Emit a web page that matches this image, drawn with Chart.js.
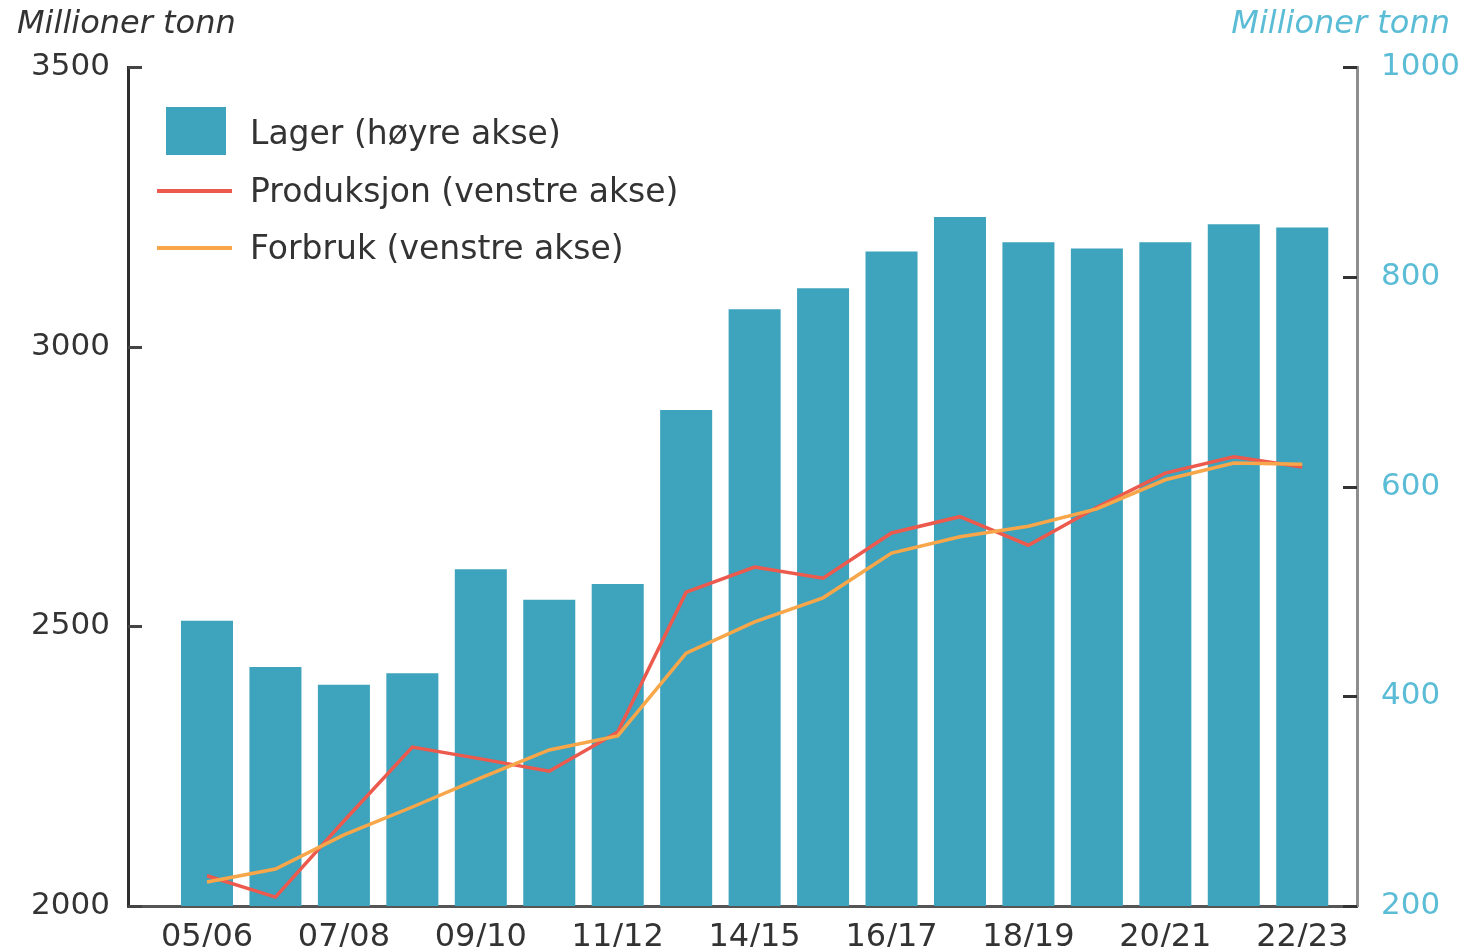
<!DOCTYPE html>
<html>
<head>
<meta charset="utf-8">
<script src="https://cdn.jsdelivr.net/npm/chart.js@4.4.0/dist/chart.umd.min.js"></script>
<style>
  body { margin: 0; background: #fff; }
  #wrap { position: relative; width: 1463px; height: 947px; }
  .unit { position: absolute; top: 3px; font: italic 32px 'DejaVu Sans', sans-serif; white-space: nowrap; }
  #unitLeft { left: 17px; color: #333; }
  #unitRight { right: 13px; color: #5bbcd6; }
  #legend { position: absolute; left: 157px; top: 104px; font: 33px 'DejaVu Sans', sans-serif; color: #333; }
  .item { position: relative; height: 57.5px; padding-left: 93px; line-height: 57.5px; white-space: nowrap; }
  .swatch { position: absolute; }
</style>
</head>
<body>
<div id="wrap">
  <canvas id="chart" width="1463" height="947"></canvas>
  <div class="unit" id="unitLeft">Millioner tonn</div>
  <div class="unit" id="unitRight">Millioner tonn</div>
  <div id="legend"></div>
</div>
<script>
// sesonger (13/14 mangler i originalen)
const seasons = ['05/06', '06/07', '07/08', '08/09', '09/10', '10/11', '11/12', '12/13',
  '14/15', '15/16', '16/17', '17/18', '18/19', '19/20', '20/21', '21/22', '22/23'];

// millioner tonn, høyre akse
const lager = [472, 428, 411, 422, 521, 492, 507, 673, 769, 789, 824, 857, 833, 827, 833, 850, 847];

// millioner tonn, venstre akse
const produksjon = [2054, 2016, 2152, 2284, 2263, 2241, 2311, 2561, 2606, 2586, 2667, 2696, 2645, 2713, 2774, 2803, 2785];
const forbruk = [2043, 2066, 2127, 2177, 2229, 2279, 2304, 2452, 2508, 2551, 2631, 2660, 2679, 2710, 2762, 2792, 2790];

const leftTicks = [2000, 2500, 3000, 3500];
const rightTicks = [200, 400, 600, 800, 1000];
const xTickIdx = [0, 2, 4, 6, 8, 10, 12, 14, 16];

const toXY = arr => arr.map((v, i) => ({ x: i, y: v }));
const font = { family: 'DejaVu Sans', size: 31 };

const tickMarks = {
  id: 'tickMarks',
  afterDraw(chart) {
    const ctx = chart.ctx, a = chart.chartArea;
    ctx.save();
    ctx.lineWidth = 3;
    ctx.strokeStyle = '#444';
    chart.scales.y.ticks.forEach(t => {
      const y = Math.round(chart.scales.y.getPixelForValue(t.value)) + 0.5;
      ctx.beginPath(); ctx.moveTo(a.left, y); ctx.lineTo(a.left + 14, y); ctx.stroke();
    });
    ctx.strokeStyle = '#333';
    chart.scales.y1.ticks.forEach(t => {
      const y = Math.round(chart.scales.y1.getPixelForValue(t.value)) + 0.5;
      ctx.beginPath(); ctx.moveTo(a.right - 14, y); ctx.lineTo(a.right, y); ctx.stroke();
    });
    ctx.restore();
  }
};

const chart = new Chart(document.getElementById('chart'), {
  type: 'bar',
  data: {
    datasets: [
      {
        type: 'bar',
        label: 'Lager (høyre akse)',
        data: toXY(lager),
        yAxisID: 'y1',
        backgroundColor: '#3ea3bc',
        barPercentage: 0.76,
        categoryPercentage: 1,
        order: 2
      },
      {
        type: 'line',
        label: 'Produksjon (venstre akse)',
        data: toXY(produksjon),
        yAxisID: 'y',
        borderColor: '#ec5a4e',
        borderWidth: 3.5,
        pointRadius: 0,
        tension: 0,
        order: 1
      },
      {
        type: 'line',
        label: 'Forbruk (venstre akse)',
        data: toXY(forbruk),
        yAxisID: 'y',
        borderColor: '#f7a64a',
        borderWidth: 3.5,
        pointRadius: 0,
        tension: 0,
        order: 0
      }
    ]
  },
  options: {
    responsive: false,
    animation: false,
    layout: { padding: { top: 67, left: 0, right: 0, bottom: 0 } },
    plugins: { legend: { display: false }, tooltip: { enabled: false } },
    scales: {
      x: {
        type: 'linear',
        offset: false,
        min: -1.154,
        max: 16.80,
        grid: { display: false },
        border: { color: '#555', width: 3 },
        afterBuildTicks: s => { s.ticks = xTickIdx.map(v => ({ value: v })); },
        afterFit: s => { s.height = 41; },
        ticks: {
          autoSkip: false,
          maxRotation: 0,
          padding: 4,
          color: '#333',
          font: { family: 'DejaVu Sans', size: 32 },
          callback: v => seasons[v]
        }
      },
      y: {
        position: 'left',
        min: 2000,
        max: 3500,
        grid: { display: false },
        border: { color: '#2e2e2e', width: 3 },
        afterBuildTicks: s => { s.ticks = leftTicks.map(v => ({ value: v })); },
        afterFit: s => { s.width = 128; },
        ticks: { padding: 10, color: '#333', font: font, callback: v => String(v) }
      },
      y1: {
        position: 'right',
        min: 200,
        max: 1000,
        grid: { display: false },
        border: { color: '#8e8e8e', width: 3 },
        afterBuildTicks: s => { s.ticks = rightTicks.map(v => ({ value: v })); },
        afterFit: s => { s.width = 106; },
        ticks: { padding: 16, color: '#5bbcd6', font: font, callback: v => String(v) }
      }
    }
  },
  plugins: [tickMarks]
});

// legende inne i plottet
const legendEl = document.getElementById('legend');
chart.data.datasets.forEach(ds => {
  const item = document.createElement('div');
  item.className = 'item';
  const sw = document.createElement('span');
  sw.className = 'swatch';
  if (ds.type === 'bar') {
    Object.assign(sw.style, { left: '9px', top: '3px', width: '60px', height: '48px', background: ds.backgroundColor });
  } else {
    Object.assign(sw.style, { left: '0px', top: '27px', width: '75px', height: '4px', background: ds.borderColor });
  }
  item.appendChild(sw);
  item.appendChild(document.createTextNode(ds.label));
  legendEl.appendChild(item);
});
</script>
</body>
</html>
